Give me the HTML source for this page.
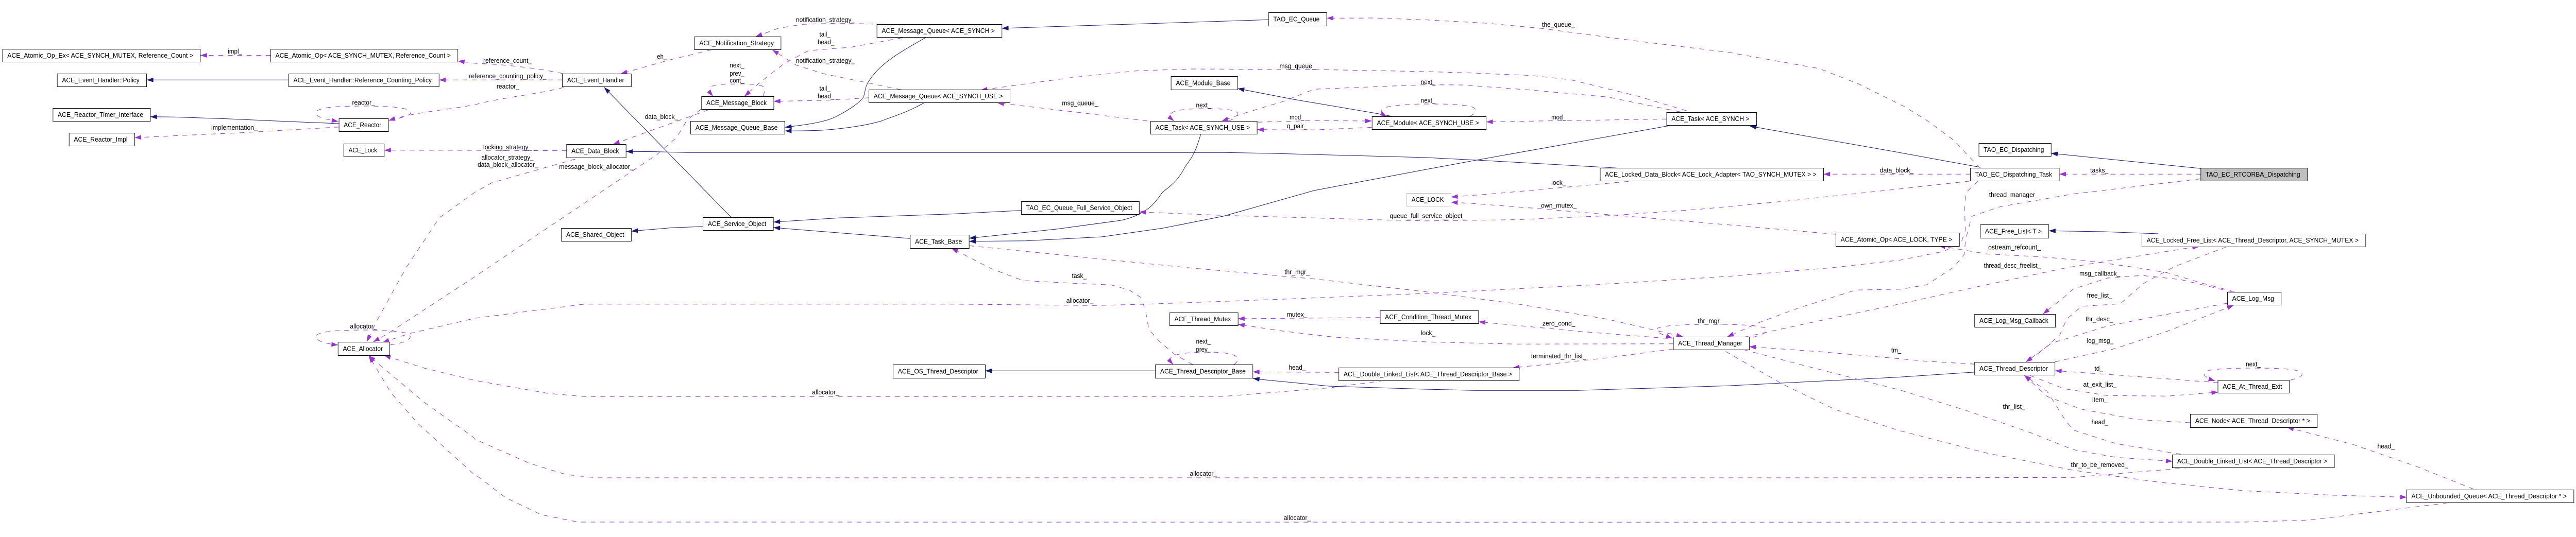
<!DOCTYPE html>
<html><head><meta charset="utf-8"><style>
html,body{margin:0;padding:0;background:#fff;width:100%;height:100%;overflow:hidden}
svg{display:block;width:100vw;height:100vh}
text{font-family:"Liberation Sans",sans-serif;font-size:13.33px;fill:#000;stroke:none}
rect{fill:#fff;stroke:#000;stroke-width:1}
.g{fill:none;stroke:#9a32cd;stroke-width:1;stroke-dasharray:10 10}
.n{fill:none;stroke:#191970;stroke-width:1}
</style></head><body>
<svg xmlns="http://www.w3.org/2000/svg" viewBox="0 0 5421 1043" preserveAspectRatio="none">
<defs>
<marker id="p" markerUnits="userSpaceOnUse" markerWidth="16" markerHeight="12" refX="14" refY="5" orient="auto" overflow="visible"><path d="M0,0.5L14,5L0,9.5Z" fill="#9a32cd" stroke="none"/></marker>
<marker id="b" markerUnits="userSpaceOnUse" markerWidth="16" markerHeight="12" refX="14" refY="5" orient="auto" overflow="visible"><path d="M0,0.5L14,5L0,9.5Z" fill="#191970" stroke="none"/></marker>
</defs>

<g class="n" marker-end="url(#b)">
<path d="M607.8,155.3L308.7,155.3"/>
<path d="M713.6,240L605.9,236L478,230.7L366.7,227.3L316.3,226.7"/>
<path d="M1948.3,72.7C1915,91 1855,118 1829,156.7C1818,172 1822,180 1816,190C1810,198 1790,212 1759,226.7C1735,238 1690,243 1651.8,247.3"/>
<path d="M1943.9,200C1910,218 1880,226 1854.6,235C1825,243 1795,247 1765.3,250C1730,254 1690,254.3 1651.8,254.3"/>
<path d="M1538.9,422.3L1271,169.3"/>
<path d="M1479.6,440L1414.5,442.3L1328.4,449"/>
<path d="M3401.8,326.3L3108.4,311L3000,306L2669.6,297.7L2574,296.3L1446.4,296.3L1382.7,294.7L1317.6,294.3"/>
<path d="M1915.8,463.3L1627.6,442"/>
<path d="M2149.9,408.7L2000,415.7L1765,423.3L1627.6,431.3"/>
<path d="M2526.8,260.7C2515,300 2505,310 2494.3,323.3C2480,350 2465,360 2446.4,373.3C2430,395 2420,405 2401.8,413.3C2390,420 2375,425 2357,428.3L2223,445L2039.5,462.7"/>
<path d="M3513.4,244L3108.4,310.7L3000,329.3L2765.3,370L2574,420L2446.4,443.3L2319,460L2159.4,467.7L2039.5,468.7"/>
<path d="M2669.6,38.3L2108.4,55"/>
<path d="M2929,226L2905.6,221.7L2720.7,192.7L2604.6,172"/>
<path d="M4167.7,325L4000,296.7L3682.4,245"/>
<path d="M4631.7,327.3L4316.3,297.7"/>
<path d="M4542,454L4426,450L4311.8,448.3"/>
<path d="M2431.8,720.3L2073.3,720.3"/>
<path d="M4155.9,722.7L4000,732.3L3637.8,749.3L3318.9,758.3L3102,758.3L3000,756L2797,750L2650.5,736.7L2636.5,735"/>
</g>

<g class="g" marker-end="url(#p)">
<path d="M569.5,107.5L421.5,107.5"/>
<path d="M1183.7,142.7C1120,130 1040,124 1000,123L963.6,118.5"/>
<path d="M1183.7,155.3L924,155.3"/>
<path d="M1186,170C1120,185 1050,190 1000,203.3C930,215 870,218 817.6,234.3"/>
<path d="M819.5,234C850,228 872,222 862,215C850,207 800,206 765,206C720,206 670,207 665,218C662,226 680,231 712,236"/>
<path d="M713.6,246.7L510,257.7L376,263.3L283.2,267.3"/>
<path d="M1192.6,292.7L1000,292L808.7,291.7"/>
<path d="M1210.5,309L1035,355L1000,373L924.7,423L854.6,520L790.8,626.7L771.7,664"/>
<path d="M1475,212.3L1446,233L1424,267L1382.7,300L1032,517L1000,537L816,648L785,664.3"/>
<path d="M4163,351.7L4137.8,373.3L4134,400L4136,446.7L4127,471.7L4090.6,488.3L4000,505L3854,520L3637.8,536.7L3363.5,552.7L3000,570L2701,581L2414.5,590.7L2306,593.3L2000,590.7L1229.6,590.7L1000,618L861,648L805,665"/>
<path d="M820.8,670C850,666 868,660 862,650C855,643 800,641 765,641C720,641 668,643 664.5,653C664,662 685,668 711.5,670"/>
<path d="M2912,739.3L2797,753.3L2574,770L2000,770.3L1229.6,770.3L1153,764L1000,739L893,715L808,690.3"/>
<path d="M4607,908.3L4362.5,927.3L4000,928L1255,928L1191,921.7L1115,900L1000,853.3L995,848.3L893,781.7L776,690.7"/>
<path d="M5151,976.7L4861,1010L4725,1014L4000,1014.3L1217,1014L1140,1000L1064,966.7L1010,928.3L998,921.7L880,823L822.7,763L776,690.7"/>
<path d="M1497.4,96.7L1408,116.7L1306,143.3"/>
<path d="M1857.8,47.3L1765,45L1688.8,47.3L1637.8,55L1590,71.3"/>
<path d="M1896,174.3L1733.4,143.3L1676,126.7L1625,96.7"/>
<path d="M1899,73.3L1790.8,91.7L1701.5,98.3L1650.5,123.3L1599.5,160L1566.3,187.3"/>
<path d="M1828.4,190L1733.4,195L1628.2,196.7"/>
<path d="M1605.9,186.7C1608,178 1616,170 1600,166C1580,162 1555,163 1535.7,163.3C1515,164 1495,165 1493,172C1491,178 1496,182 1500.6,187.3"/>
<path d="M1491,213.3L1290,280.3"/>
<path d="M4167.7,326.7L4136,296.7L4113,273.3L4054,233.3L4007,206.7L3912,163.3L3829,133.3L3637.8,101.7L3446.4,80L3242.3,55L3127.6,45L3000,38.5L2893,35L2792,35.3"/>
<path d="M3548.5,215L3446.4,186.7L3306,155L3223,146.7L3095.7,141.7L3000,139L2765.3,135L2510,134L2395.4,137.3L2255,150.7L2063.8,175"/>
<path d="M2414.5,235L2255,216.7L2098.9,200"/>
<path d="M3535.7,217.3L3382.6,188.3L3223,175L3076.5,165L3000,164.5L2765.3,173.3L2701.5,196.7L2612,221.7L2570.8,235.3"/>
<path d="M2585.5,235.3C2598,230 2610,224 2602,217C2590,212 2560,211 2535.7,211C2505,211 2475,213 2466,219C2459,224 2464,230 2470.7,235.3"/>
<path d="M2646.7,237.3L2765.3,234.3L2887,235"/>
<path d="M2887,247.3L2765.3,252.3L2701.5,252.3L2645.4,251.7"/>
<path d="M3092.5,226C3102,222 3112,214 3099,208C3080,202 3040,202 3000,202C2960,202 2925,205 2912,210C2902,215 2910,222 2918.4,226.7"/>
<path d="M3507.7,231.3L3287,234.3L3127.6,236.7"/>
<path d="M4631.7,338.3L4333.5,338.3"/>
<path d="M4146.8,338.3L3837.4,338.3"/>
<path d="M3427.3,352.3L3306,362.7L3159,375L3053.6,382.7"/>
<path d="M3863.5,455L3637.8,436.7L3382.6,416.7L3223,404L3095.7,395L3053.6,392.7"/>
<path d="M4145,351.7L4000,366.7L3765,390L3574,406.7L3382.6,419L3191,426.7L3000,429L2893,426.7L2574,418.3L2397.3,411.7"/>
<path d="M4631.7,347.3L4362.5,376.7L4208.4,401.7L4149.5,420L4136,466.7L4134,493.3L4113,518L4054.4,553.3L4000,561.7L3905.6,563.3L3784.4,598.3L3701.5,626.7L3634.6,654.3"/>
<path d="M2039.5,477.3L2500.6,520L2765,541.7L3000,566.7L3191,590L3382.6,620L3542,654"/>
<path d="M2510,708.3L2472,688L2440,663.3L2417.7,640L2411.4,606.7L2401.8,578.3L2376.3,563.3L2338,553.3L2255,550L2153,545L2086,521.7L2076.5,517.3L2019,490L2002,482.3"/>
<path d="M2596.3,708.3C2603,704 2612,696 2597,690C2580,684 2555,684 2535.7,684C2510,684 2480,686 2468,692C2458,698 2463,702 2468.8,708.3"/>
<path d="M2904.3,616.7L2605.2,619"/>
<path d="M3521.7,667.7L3191,668.3L3000,664L2810,655L2701.5,643.3L2605.2,630"/>
<path d="M3510,657.3L3319,643.3L3111.6,625"/>
<path d="M3521.7,677.7L3382.6,695L3255,707.7L3183.7,714.3"/>
<path d="M2817.6,723.3L2636.5,722.3"/>
<path d="M3688.8,655C3705,651 3728,644 3715,637C3690,630 3640,630 3599.5,630C3550,630 3495,632 3488,638C3480,645 3500,650 3519.8,657.3"/>
<path d="M3669.6,655L3829,623L4000,590L4181,553L4349,520L4616,480L4628,479.5"/>
<path d="M4686,479.3L4575.5,518L4512,550L4462,590L4380.6,595L4349,620L4335,650L4299,680L4263,703.3"/>
<path d="M4702,566.7L4634,550L4562,530L4494,519.5L4408,508.3L4299,499L4181,493.3L4079.8,477.3"/>
<path d="M4698,567.3L4589,543L4507.5,535L4435,540L4362.5,561.7L4344.4,576.7L4299,610"/>
<path d="M4687,589L4543.8,613.3L4435,633.3L4317,666.7L4263,703.3"/>
<path d="M4324.5,702.7L4453,676.7L4562,643L4700.6,593"/>
<path d="M4668,743.3L4453,728.3L4324.5,720"/>
<path d="M4272,729.3L4344,755L4435,768.3L4562,769.3L4668,761.7"/>
<path d="M4820,738.3C4835,735 4855,728 4838,721C4820,715 4775,715 4743,715C4700,715 4650,716 4642,722C4632,728 4645,735 4661.6,740"/>
<path d="M4609,821L4498.5,815L4380.6,795L4308,770L4260,729"/>
<path d="M4589,882.3L4453,861.7L4362.5,835L4344.4,813.3L4308,760L4260,729"/>
<path d="M3669.6,679.3L3797,710L4000,758L4136,796.7L4272,840L4362.5,873.3L4453,888.3L4571.9,896"/>
<path d="M3631.4,682.7L3752.6,746.7L3861,795L3991.7,835L4181,880L4362.5,913.3L4543.8,936.7L4725,953.3L4906,961.7L5064.9,965.7"/>
<path d="M5205.4,950L5087.5,906.7L4951.6,863.3L4813,830"/>
<path d="M4155.9,707.3L4054.4,701.7L4000,697L3829,683L3695,674.3L3681,673.3"/>
</g>

<g>
<rect x="5.5" y="95.5" width="416" height="25"/><text x="15.5" y="112.2" textLength="391" lengthAdjust="spacingAndGlyphs">ACE_Atomic_Op_Ex&lt; ACE_SYNCH_MUTEX, Reference_Count &gt;</text>
<rect x="569.5" y="95.5" width="394" height="25"/><text x="579.5" y="112.2" textLength="369" lengthAdjust="spacingAndGlyphs">ACE_Atomic_Op&lt; ACE_SYNCH_MUTEX, Reference_Count &gt;</text>
<rect x="120.5" y="143.5" width="188" height="25"/><text x="130.5" y="160.2" textLength="163" lengthAdjust="spacingAndGlyphs">ACE_Event_Handler::Policy</text>
<rect x="607.5" y="143.5" width="316.5" height="25"/><text x="617.5" y="160.2" textLength="291" lengthAdjust="spacingAndGlyphs">ACE_Event_Handler::Reference_Counting_Policy</text>
<rect x="111.5" y="210.5" width="205" height="25"/><text x="121.5" y="227.2" textLength="180" lengthAdjust="spacingAndGlyphs">ACE_Reactor_Timer_Interface</text>
<rect x="713.5" y="230.5" width="104" height="25"/><text x="723.5" y="247.2" textLength="79" lengthAdjust="spacingAndGlyphs">ACE_Reactor</text>
<rect x="145.5" y="258.5" width="138" height="25"/><text x="155.5" y="275.2" textLength="113" lengthAdjust="spacingAndGlyphs">ACE_Reactor_Impl</text>
<rect x="723.5" y="279.5" width="85" height="25"/><text x="733.5" y="296.2" textLength="60" lengthAdjust="spacingAndGlyphs">ACE_Lock</text>
<rect x="711.5" y="664.5" width="108.5" height="26"/><text x="721.5" y="681.7" textLength="84" lengthAdjust="spacingAndGlyphs">ACE_Allocator</text>
<rect x="1461.5" y="71.5" width="182" height="25"/><text x="1471.5" y="88.2" textLength="157" lengthAdjust="spacingAndGlyphs">ACE_Notification_Strategy</text>
<rect x="1845.5" y="47.5" width="263" height="25"/><text x="1855.5" y="64.2" textLength="238" lengthAdjust="spacingAndGlyphs">ACE_Message_Queue&lt; ACE_SYNCH &gt;</text>
<rect x="1183.5" y="143.5" width="145" height="25"/><text x="1193.5" y="160.2" textLength="120" lengthAdjust="spacingAndGlyphs">ACE_Event_Handler</text>
<rect x="1476.5" y="187.5" width="152" height="25"/><text x="1486.5" y="204.2" textLength="127" lengthAdjust="spacingAndGlyphs">ACE_Message_Block</text>
<rect x="1828.5" y="174.5" width="297" height="25"/><text x="1838.5" y="191.2" textLength="272" lengthAdjust="spacingAndGlyphs">ACE_Message_Queue&lt; ACE_SYNCH_USE &gt;</text>
<rect x="1453.5" y="235.5" width="198" height="25"/><text x="1463.5" y="252.2" textLength="173" lengthAdjust="spacingAndGlyphs">ACE_Message_Queue_Base</text>
<rect x="1192.5" y="280.5" width="125" height="26"/><text x="1202.5" y="297.7" textLength="100" lengthAdjust="spacingAndGlyphs">ACE_Data_Block</text>
<rect x="1479.5" y="422.5" width="148" height="25"/><text x="1489.5" y="439.2" textLength="123" lengthAdjust="spacingAndGlyphs">ACE_Service_Object</text>
<rect x="1181.5" y="443.5" width="147" height="25"/><text x="1191.5" y="460.2" textLength="122" lengthAdjust="spacingAndGlyphs">ACE_Shared_Object</text>
<rect x="1915.5" y="456.5" width="124" height="26"/><text x="1925.5" y="473.7" textLength="99" lengthAdjust="spacingAndGlyphs">ACE_Task_Base</text>
<rect x="1879.5" y="708.5" width="194" height="26"/><text x="1889.5" y="725.7" textLength="169" lengthAdjust="spacingAndGlyphs">ACE_OS_Thread_Descriptor</text>
<rect x="2669.5" y="24.5" width="122.5" height="26"/><text x="2679.5" y="41.7" textLength="97.5" lengthAdjust="spacingAndGlyphs">TAO_EC_Queue</text>
<rect x="2464.5" y="148.5" width="140" height="26"/><text x="2474.5" y="165.7" textLength="115" lengthAdjust="spacingAndGlyphs">ACE_Module_Base</text>
<rect x="2421.5" y="235.5" width="224" height="25"/><text x="2431.5" y="252.2" textLength="199" lengthAdjust="spacingAndGlyphs">ACE_Task&lt; ACE_SYNCH_USE &gt;</text>
<rect x="2887.5" y="226.5" width="240" height="25"/><text x="2897.5" y="243.2" textLength="215" lengthAdjust="spacingAndGlyphs">ACE_Module&lt; ACE_SYNCH_USE &gt;</text>
<rect x="2149.5" y="391.5" width="248" height="25"/><text x="2159.5" y="408.2" textLength="223" lengthAdjust="spacingAndGlyphs">TAO_EC_Queue_Full_Service_Object</text>
<rect x="2960.5" y="375.5" width="93" height="25" style="stroke:#bfbfbf"/><text x="2970.5" y="392.2" textLength="68" lengthAdjust="spacingAndGlyphs">ACE_LOCK</text>
<rect x="2461.5" y="607.5" width="144" height="25"/><text x="2471.5" y="624.2" textLength="119" lengthAdjust="spacingAndGlyphs">ACE_Thread_Mutex</text>
<rect x="2904.5" y="603.5" width="207" height="25"/><text x="2914.5" y="620.2" textLength="182" lengthAdjust="spacingAndGlyphs">ACE_Condition_Thread_Mutex</text>
<rect x="2431.5" y="708.5" width="205" height="26"/><text x="2441.5" y="725.7" textLength="180" lengthAdjust="spacingAndGlyphs">ACE_Thread_Descriptor_Base</text>
<rect x="2817.5" y="714.5" width="379.5" height="25"/><text x="2827.5" y="731.2" textLength="354.5" lengthAdjust="spacingAndGlyphs">ACE_Double_Linked_List&lt; ACE_Thread_Descriptor_Base &gt;</text>
<rect x="3507.5" y="218.5" width="189" height="25"/><text x="3517.5" y="235.2" textLength="164" lengthAdjust="spacingAndGlyphs">ACE_Task&lt; ACE_SYNCH &gt;</text>
<rect x="3367.5" y="326.5" width="470" height="25"/><text x="3377.5" y="343.2" textLength="445" lengthAdjust="spacingAndGlyphs">ACE_Locked_Data_Block&lt; ACE_Lock_Adapter&lt; TAO_SYNCH_MUTEX &gt; &gt;</text>
<rect x="3863.5" y="452.5" width="260" height="26"/><text x="3873.5" y="469.7" textLength="235" lengthAdjust="spacingAndGlyphs">ACE_Atomic_Op&lt; ACE_LOCK, TYPE &gt;</text>
<rect x="3521.5" y="654.5" width="160" height="25"/><text x="3531.5" y="671.2" textLength="135" lengthAdjust="spacingAndGlyphs">ACE_Thread_Manager</text>
<rect x="4164.5" y="278.5" width="152" height="25"/><text x="4174.5" y="295.2" textLength="127" lengthAdjust="spacingAndGlyphs">TAO_EC_Dispatching</text>
<rect x="4146.5" y="326.5" width="187" height="25"/><text x="4156.5" y="343.2" textLength="162" lengthAdjust="spacingAndGlyphs">TAO_EC_Dispatching_Task</text>
<rect x="4631.5" y="326.5" width="224" height="25" style="fill:#bfbfbf"/><text x="4641.5" y="343.2" textLength="199" lengthAdjust="spacingAndGlyphs">TAO_EC_RTCORBA_Dispatching</text>
<rect x="4167.5" y="436.5" width="144" height="26"/><text x="4177.5" y="453.7" textLength="119" lengthAdjust="spacingAndGlyphs">ACE_Free_List&lt; T &gt;</text>
<rect x="4507.5" y="454.5" width="471" height="25"/><text x="4517.5" y="471.2" textLength="446" lengthAdjust="spacingAndGlyphs">ACE_Locked_Free_List&lt; ACE_Thread_Descriptor, ACE_SYNCH_MUTEX &gt;</text>
<rect x="4687.5" y="567.5" width="113" height="25"/><text x="4697.5" y="584.2" textLength="88" lengthAdjust="spacingAndGlyphs">ACE_Log_Msg</text>
<rect x="4155.5" y="610.5" width="170" height="25"/><text x="4165.5" y="627.2" textLength="145" lengthAdjust="spacingAndGlyphs">ACE_Log_Msg_Callback</text>
<rect x="4155.5" y="703.5" width="169" height="25"/><text x="4165.5" y="720.2" textLength="144" lengthAdjust="spacingAndGlyphs">ACE_Thread_Descriptor</text>
<rect x="4667.5" y="738.5" width="150" height="25"/><text x="4677.5" y="755.2" textLength="125" lengthAdjust="spacingAndGlyphs">ACE_At_Thread_Exit</text>
<rect x="4609.5" y="804.5" width="267" height="26"/><text x="4619.5" y="821.7" textLength="242" lengthAdjust="spacingAndGlyphs">ACE_Node&lt; ACE_Thread_Descriptor * &gt;</text>
<rect x="4571.5" y="883.5" width="341" height="25"/><text x="4581.5" y="900.2" textLength="316" lengthAdjust="spacingAndGlyphs">ACE_Double_Linked_List&lt; ACE_Thread_Descriptor &gt;</text>
<rect x="5064.5" y="951.5" width="352" height="25"/><text x="5074.5" y="968.2" textLength="327" lengthAdjust="spacingAndGlyphs">ACE_Unbounded_Queue&lt; ACE_Thread_Descriptor * &gt;</text>
</g>

<g>
<text x="479.6" y="104" textLength="30" lengthAdjust="spacingAndGlyphs">impl_</text>
<text x="1017" y="122" textLength="102" lengthAdjust="spacingAndGlyphs">reference_count_</text>
<text x="987" y="152" textLength="163" lengthAdjust="spacingAndGlyphs">reference_counting_policy_</text>
<text x="1045" y="172" textLength="48" lengthAdjust="spacingAndGlyphs">reactor_</text>
<text x="741" y="203.5" textLength="48" lengthAdjust="spacingAndGlyphs">reactor_</text>
<text x="444.5" y="252" textLength="97.5" lengthAdjust="spacingAndGlyphs">implementation_</text>
<text x="1017" y="290" textLength="102" lengthAdjust="spacingAndGlyphs">locking_strategy_</text>
<text x="1013" y="310" textLength="110" lengthAdjust="spacingAndGlyphs">allocator_strategy_</text>
<text x="1005" y="324" textLength="127.6" lengthAdjust="spacingAndGlyphs">data_block_allocator_</text>
<text x="1176.7" y="328" textLength="156.3" lengthAdjust="spacingAndGlyphs">message_block_allocator_</text>
<text x="736.6" y="638" textLength="56.5" lengthAdjust="spacingAndGlyphs">allocator_</text>
<text x="1382.7" y="114" textLength="20.4" lengthAdjust="spacingAndGlyphs">eh_</text>
<text x="1675" y="42.5" textLength="124" lengthAdjust="spacingAndGlyphs">notification_strategy_</text>
<text x="1675" y="122" textLength="124" lengthAdjust="spacingAndGlyphs">notification_strategy_</text>
<text x="1724.5" y="71" textLength="23" lengthAdjust="spacingAndGlyphs">tail_</text>
<text x="1720.7" y="86" textLength="35" lengthAdjust="spacingAndGlyphs">head_</text>
<text x="1724.5" y="176" textLength="23" lengthAdjust="spacingAndGlyphs">tail_</text>
<text x="1720.7" y="191" textLength="35" lengthAdjust="spacingAndGlyphs">head_</text>
<text x="1535.7" y="131" textLength="30.6" lengthAdjust="spacingAndGlyphs">next_</text>
<text x="1535.7" y="147" textLength="30.6" lengthAdjust="spacingAndGlyphs">prev_</text>
<text x="1535.7" y="160.5" textLength="30.6" lengthAdjust="spacingAndGlyphs">cont_</text>
<text x="1357" y="231" textLength="70" lengthAdjust="spacingAndGlyphs">data_block_</text>
<text x="1709" y="766" textLength="57" lengthAdjust="spacingAndGlyphs">allocator_</text>
<text x="2244" y="588" textLength="57" lengthAdjust="spacingAndGlyphs">allocator_</text>
<text x="2504" y="924" textLength="57" lengthAdjust="spacingAndGlyphs">allocator_</text>
<text x="2701.5" y="1010" textLength="57" lengthAdjust="spacingAndGlyphs">allocator_</text>
<text x="3245" y="52" textLength="69" lengthAdjust="spacingAndGlyphs">the_queue_</text>
<text x="2692.6" y="132.5" textLength="76" lengthAdjust="spacingAndGlyphs">msg_queue_</text>
<text x="2235" y="204.5" textLength="76" lengthAdjust="spacingAndGlyphs">msg_queue_</text>
<text x="2990" y="163.5" textLength="31" lengthAdjust="spacingAndGlyphs">next_</text>
<text x="2517" y="208.5" textLength="31.5" lengthAdjust="spacingAndGlyphs">next_</text>
<text x="2713.7" y="232" textLength="31" lengthAdjust="spacingAndGlyphs">mod_</text>
<text x="2708" y="249" textLength="43" lengthAdjust="spacingAndGlyphs">q_pair_</text>
<text x="2990" y="199.5" textLength="31" lengthAdjust="spacingAndGlyphs">next_</text>
<text x="3264.7" y="232" textLength="31" lengthAdjust="spacingAndGlyphs">mod_</text>
<text x="4398.8" y="335" textLength="38" lengthAdjust="spacingAndGlyphs">tasks_</text>
<text x="3956" y="335" textLength="71" lengthAdjust="spacingAndGlyphs">data_block_</text>
<text x="3264.7" y="359" textLength="31" lengthAdjust="spacingAndGlyphs">lock_</text>
<text x="3243" y="403.5" textLength="75" lengthAdjust="spacingAndGlyphs">own_mutex_</text>
<text x="2924.7" y="423.5" textLength="160" lengthAdjust="spacingAndGlyphs">queue_full_service_object_</text>
<text x="4185.8" y="382.5" textLength="104" lengthAdjust="spacingAndGlyphs">thread_manager_</text>
<text x="2703" y="532.5" textLength="53" lengthAdjust="spacingAndGlyphs">thr_mgr_</text>
<text x="2255.7" y="540" textLength="31" lengthAdjust="spacingAndGlyphs">task_</text>
<text x="2517" y="667.5" textLength="31" lengthAdjust="spacingAndGlyphs">next_</text>
<text x="2517" y="683" textLength="31" lengthAdjust="spacingAndGlyphs">prev_</text>
<text x="2708" y="615" textLength="43" lengthAdjust="spacingAndGlyphs">mutex_</text>
<text x="2990" y="651" textLength="31" lengthAdjust="spacingAndGlyphs">lock_</text>
<text x="3246" y="632.5" textLength="69" lengthAdjust="spacingAndGlyphs">zero_cond_</text>
<text x="3222" y="696" textLength="116" lengthAdjust="spacingAndGlyphs">terminated_thr_list_</text>
<text x="2712" y="718" textLength="36" lengthAdjust="spacingAndGlyphs">head_</text>
<text x="3572.7" y="627.5" textLength="53.5" lengthAdjust="spacingAndGlyphs">thr_mgr_</text>
<text x="3980" y="684.5" textLength="21" lengthAdjust="spacingAndGlyphs">tm_</text>
<text x="4175" y="520" textLength="119.5" lengthAdjust="spacingAndGlyphs">thread_desc_freelist_</text>
<text x="4392" y="578" textLength="53" lengthAdjust="spacingAndGlyphs">free_list_</text>
<text x="4184" y="484.5" textLength="110.5" lengthAdjust="spacingAndGlyphs">ostream_refcount_</text>
<text x="4376" y="535.5" textLength="86" lengthAdjust="spacingAndGlyphs">msg_callback_</text>
<text x="4388.8" y="624" textLength="58" lengthAdjust="spacingAndGlyphs">thr_desc_</text>
<text x="4391.5" y="666" textLength="56" lengthAdjust="spacingAndGlyphs">log_msg_</text>
<text x="4407.8" y="720" textLength="18" lengthAdjust="spacingAndGlyphs">td_</text>
<text x="4384" y="751" textLength="70" lengthAdjust="spacingAndGlyphs">at_exit_list_</text>
<text x="4726" y="711.5" textLength="31.6" lengthAdjust="spacingAndGlyphs">next_</text>
<text x="4403" y="780.5" textLength="32" lengthAdjust="spacingAndGlyphs">item_</text>
<text x="4401.5" y="824" textLength="35" lengthAdjust="spacingAndGlyphs">head_</text>
<text x="4214.8" y="794" textLength="47" lengthAdjust="spacingAndGlyphs">thr_list_</text>
<text x="4358" y="907" textLength="120.5" lengthAdjust="spacingAndGlyphs">thr_to_be_removed_</text>
<text x="5003" y="871" textLength="36.5" lengthAdjust="spacingAndGlyphs">head_</text>
</g>
</svg>
</body></html>
